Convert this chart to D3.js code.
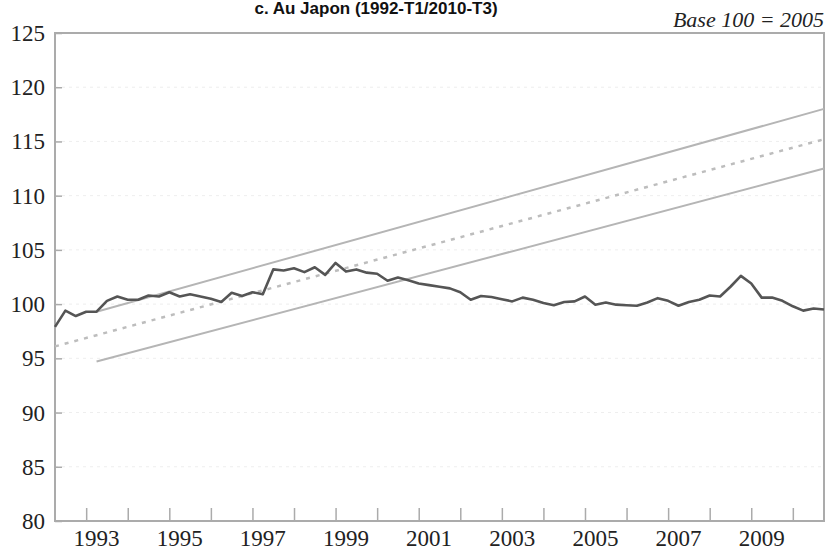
<!DOCTYPE html>
<html>
<head>
<meta charset="utf-8">
<script src="https://cdn.jsdelivr.net/npm/d3@7"></script>
<style>
  body { margin: 0; background: #fff; }
  svg { display: block; }
</style>
</head>
<body>
<div id="chart"></div>
<script>
// quarterly index, Japan, 1992-T1 .. 2010-T3
var firstYear = 1992;
var japan = [97.9, 99.4, 98.9, 99.3, 99.3, 100.3, 100.7, 100.4, 100.4, 100.8,
             100.7, 101.1, 100.7, 100.9, 100.7, 100.5, 100.2, 101.05, 100.75, 101.1,
             100.9, 103.2, 103.1, 103.3, 102.95, 103.4, 102.7, 103.8, 103.0, 103.2,
             102.9, 102.8, 102.15, 102.45, 102.2, 101.9, 101.75, 101.6, 101.45, 101.1,
             100.4, 100.75, 100.65, 100.45, 100.25, 100.6, 100.4, 100.1, 99.9, 100.2,
             100.25, 100.7, 99.95, 100.15, 99.95, 99.9, 99.85, 100.15, 100.55, 100.3,
             99.85, 100.2, 100.4, 100.8, 100.7, 101.6, 102.6, 101.9, 100.6, 100.6,
             100.3, 99.8, 99.4, 99.6, 99.5];

// trend (dotted) and band (solid) lines, [start, end]
var trendYears = [1992, 2010.5];
var trendValues = [96.1, 115.2];
var bandYears = [1993, 2010.5];
var upperValues = [99.3, 118.0];
var lowerValues = [94.7, 112.5];

var yTicks = [80, 85, 90, 95, 100, 105, 110, 115, 120, 125];
var yearTicks = d3.range(1992, 2010).map(function(y) { return y + 0.75; });
var yearLabels = [1993, 1995, 1997, 1999, 2001, 2003, 2005, 2007, 2009];

var title = "c. Au Japon (1992-T1/2010-T3)";
var baseNote = "Base 100 = 2005";

var W = 827, H = 552;
var margin = {top: 33, right: 3, bottom: 31, left: 55},
    width = W - margin.left - margin.right,
    height = H - margin.top - margin.bottom;

var root = d3.select("#chart").append("svg")
    .attr("width", W)
    .attr("height", H);

var svg = root.append("g")
    .attr("transform", "translate(" + margin.left + "," + margin.top + ")");

var x = d3.scaleLinear()
  .domain([firstYear, firstYear + (japan.length - 1) / 4])
  .range([0, width]);

var y = d3.scaleLinear()
  .domain([80, 125])
  .range([height, 0]);

var grey = "#ababab";
var serif = "'Liberation Serif', 'DejaVu Serif', serif";

// faint dashed grid
svg.selectAll(".grid")
  .data(yTicks.filter(function(d) { return d > 80 && d < 125; }))
  .enter()
  .append("line")
    .attr("x1", 0).attr("x2", width)
    .attr("y1", function(d) { return y(d); })
    .attr("y2", function(d) { return y(d); })
    .attr("stroke", "#eeeeee")
    .attr("stroke-dasharray", "3,4")
    .attr("stroke-width", 1);

// frame
svg.append("rect")
  .attr("x", 0).attr("y", 0)
  .attr("width", width).attr("height", height)
  .attr("fill", "none")
  .attr("stroke", grey)
  .attr("stroke-width", 2);

// y axis: inner ticks, labels on the left
var yAxis = svg.append("g")
  .call(d3.axisRight(y).tickValues(yTicks).tickSize(7).tickFormat(""));
yAxis.select(".domain").remove();
yAxis.selectAll("line").attr("stroke", grey).attr("stroke-width", 1.5);

svg.append("g").selectAll("text")
  .data(yTicks)
  .enter()
  .append("text")
    .attr("x", -10)
    .attr("y", function(d) { return y(d); })
    .attr("dy", "0.35em")
    .attr("text-anchor", "end")
    .style("font-family", serif)
    .style("font-size", "23px")
    .attr("fill", "#222")
    .text(function(d) { return d; });

// x axis: inner ticks at each year, labels every other year
var xAxis = svg.append("g")
  .attr("transform", "translate(0," + height + ")")
  .call(d3.axisTop(x).tickValues(yearTicks).tickSize(13).tickFormat(""));
xAxis.select(".domain").remove();
xAxis.selectAll("line").attr("stroke", grey).attr("stroke-width", 1.5);

svg.append("g").selectAll("text")
  .data(yearLabels)
  .enter()
  .append("text")
    .attr("x", function(d) { return x(d); })
    .attr("y", height + 25)
    .attr("text-anchor", "middle")
    .style("font-family", serif)
    .style("font-size", "23px")
    .attr("fill", "#222")
    .text(function(d) { return d; });

var pairs = function(xs, vs) {
  return xs.map(function(d, i) { return {year: d, value: vs[i]}; });
};

var line = d3.line()
  .x(function(d) { return x(d.year); })
  .y(function(d) { return y(d.value); });

svg.append("path")
  .attr("d", line(pairs(bandYears, upperValues)))
  .attr("fill", "none").attr("stroke", "#b5b5b5").attr("stroke-width", 2);

svg.append("path")
  .attr("d", line(pairs(bandYears, lowerValues)))
  .attr("fill", "none").attr("stroke", "#b5b5b5").attr("stroke-width", 2);

svg.append("path")
  .attr("d", line(pairs(trendYears, trendValues)))
  .attr("fill", "none").attr("stroke", "#bdbdbd")
  .attr("stroke-width", 2.5).attr("stroke-dasharray", "4,6");

var series = japan.map(function(v, i) { return {year: firstYear + i / 4, value: v}; });
svg.append("path")
  .attr("d", line(series))
  .attr("fill", "none")
  .attr("stroke", "#555")
  .attr("stroke-width", 2.6)
  .attr("stroke-linejoin", "round");

// title
root.append("text")
  .attr("x", 376)
  .attr("y", 14)
  .attr("text-anchor", "middle")
  .style("font-family", "'Liberation Sans', Arial, sans-serif")
  .style("font-weight", "bold")
  .style("font-size", "17px")
  .attr("fill", "#111")
  .text(title);

root.append("text")
  .attr("x", 824)
  .attr("y", 27)
  .attr("text-anchor", "end")
  .style("font-family", serif)
  .style("font-style", "italic")
  .style("font-size", "22px")
  .attr("fill", "#222")
  .text(baseNote);
</script>
</body>
</html>
